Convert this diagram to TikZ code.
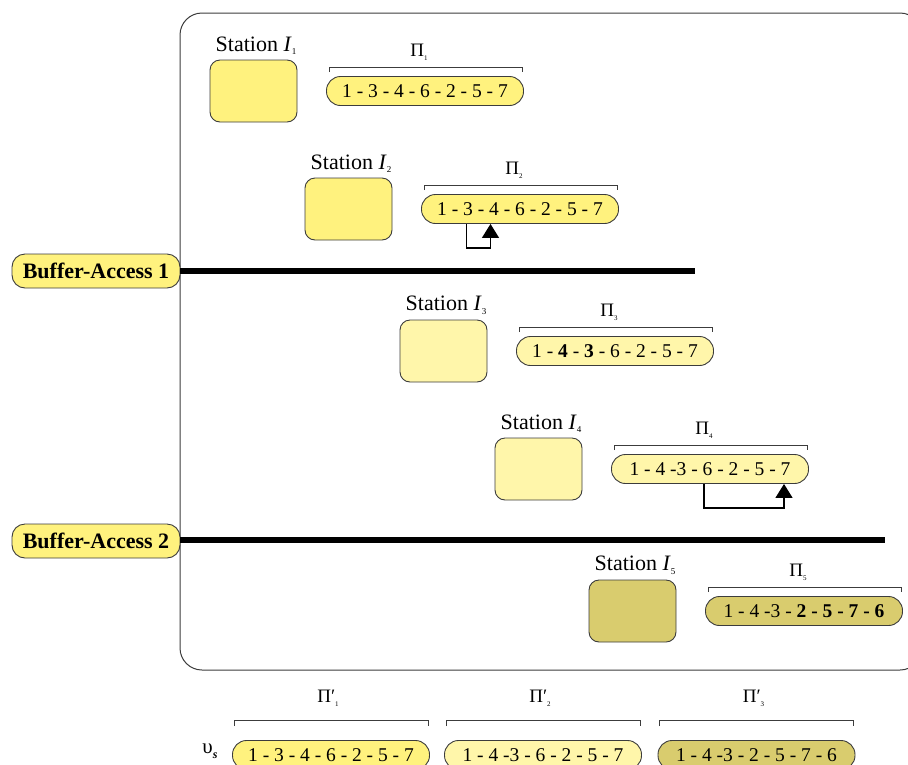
\documentclass[tikz,border=0pt]{standalone}
\usepackage{fontspec}
\setmainfont{Liberation Serif}
\usetikzlibrary{arrows.meta}

\definecolor{yelA}{HTML}{FFF27E}
\definecolor{yelB}{HTML}{FFF6AA}
\definecolor{yelC}{HTML}{D9CC6E}
\definecolor{edgegray}{HTML}{3C3C3C}

% small lowered index used after I and Pi
\newcommand\stsub[1]{\raisebox{-0.35ex}{\fontsize{9}{9}\selectfont #1}}
\newcommand\pisub[1]{\raisebox{-0.45ex}{\fontsize{7}{7}\selectfont #1}}

\tikzset{
  stationbox/.style={draw=edgegray, line width=0.9pt, rounded corners=10pt,
    minimum width=87pt, minimum height=62pt, inner sep=0pt},
  seqpill/.style={draw=edgegray, line width=0.9pt, rounded corners=14pt,
    minimum width=197pt, minimum height=29pt, inner sep=0pt,
    font=\fontsize{19.5}{21}\selectfont},
  stlabel/.style={inner sep=0pt, font=\fontsize{22}{24}\selectfont},
  pilabel/.style={inner sep=0pt, font=\fontsize{19}{21}\selectfont},
  bracketline/.style={draw=edgegray, line width=0.8pt},
  bufpill/.style={draw=edgegray, line width=0.9pt, rounded corners=13pt, fill=yelA,
    minimum width=168pt, minimum height=34pt, inner sep=0pt,
    font=\fontsize{22}{24}\selectfont\bfseries},
  busline/.style={line width=6.5pt, black},
  moveconn/.style={line width=1.4pt, black, -{Triangle[width=17pt,length=14pt]}},
  frameline/.style={draw=edgegray, line width=1pt, rounded corners=22pt}
}

% one station with its sequence; #1,#2 top-left of the box, #3 fill, #4 index, #5 sequence
\newcommand\stationrow[5]{%
  \begin{scope}[shift={(#1,#2)}]
    \node[stationbox, fill=#3] (st#4) at (43.5,31) {};
    \node[stlabel] (stl#4) at (46,-14.5) {Station \textit{I}\stsub{#4}};
    \node[pilabel] (pl#4) at (209,-7.5) {Π\pisub{#4}};
    \node[seqpill, fill=#3] (p#4) at (215,31) {#5};
    \draw[bracketline] (119,12) -- (119,7) -- (312,7) -- (312,12);
  \end{scope}}

\begin{document}
\begin{tikzpicture}[x=1pt,y=-1pt]
  \useasboundingbox (0,0) rectangle (908,764);
  \clip (0,0) rectangle (908,764);

  % outer frame
  \draw[frameline] (180,13) rectangle (922,670);

  % stations and their sequences
  \stationrow{210}{60}{yelA}{1}{1 - 3 - 4 - 6 - 2 - 5 - 7}
  \stationrow{305}{178}{yelA}{2}{1 - 3 - 4 - 6 - 2 - 5 - 7}
  \stationrow{400}{320}{yelB}{3}{1 - \textbf{4} - \textbf{3} - 6 - 2 - 5 - 7}
  \stationrow{495}{438}{yelB}{4}{1 - 4 -3 - 6 - 2 - 5 - 7}
  \stationrow{589}{580}{yelC}{5}{1 - 4 -3 - \textbf{2 - 5 - 7 - 6}}

  % moves inside the sequences
  \coordinate (m2s) at ([xshift=-53.5pt]p2.south);
  \coordinate (m2e) at ([xshift=-29.5pt]p2.south);
  \draw[moveconn] (m2s) -- ++(0,24) -| (m2e);
  \coordinate (m4s) at ([xshift=-6pt]p4.south);
  \coordinate (m4e) at ([xshift=74pt]p4.south);
  \draw[moveconn] (m4s) -- ++(0,24) -| (m4e);

  % buffer accesses
  \node[bufpill] (b1) at (96,271) {Buffer-Access 1};
  \coordinate (b1end) at (695,271);
  \draw[busline] (b1.east) -- (b1end);
  \node[bufpill] (b2) at (96,541) {Buffer-Access 2};
  \coordinate (b2end) at (885,540);
  \draw[busline] (b2.east |- b2end) -- (b2end);

  % resulting sequences
  \node[inner sep=0pt, font=\fontsize{21}{23}\selectfont] (ups) at (210,751)
    {υ\raisebox{-0.5ex}{\fontsize{12}{12}\selectfont\bfseries\itshape s}};
  \foreach \i/\cx/\col/\txt in {1/331/yelA/{1 - 3 - 4 - 6 - 2 - 5 - 7},
                                 2/543/yelB/{1 - 4 -3 - 6 - 2 - 5 - 7},
                                 3/756.5/yelC/{1 - 4 -3 - 2 - 5 - 7 - 6}} {
    \node[pilabel] (ql\i) at (\cx-3,698) {Π′\pisub{\i}};
    \node[seqpill, fill=\col] (q\i) at (\cx,755) {\txt};
    \draw[bracketline] (\cx-97,726) -- (\cx-97,720) -- (\cx+97,720) -- (\cx+97,726);
  }
\end{tikzpicture}
\end{document}
